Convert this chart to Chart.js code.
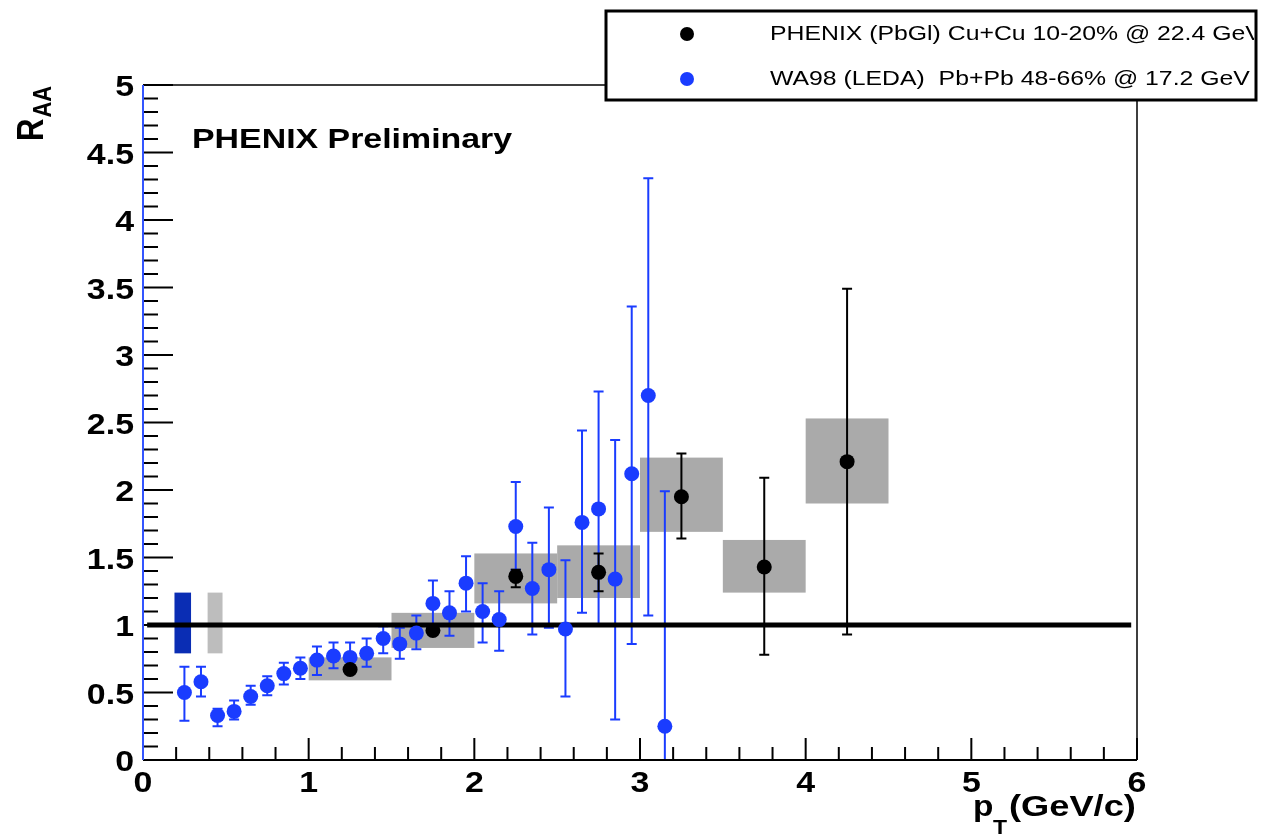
<!DOCTYPE html>
<html>
<head>
<meta charset="utf-8">
<script src="https://cdn.jsdelivr.net/npm/chart.js@4.4.1/dist/chart.umd.min.js"></script>
<style>
  html, body { margin: 0; padding: 0; background: #fff; }
  #wrap { width: 1268px; height: 837px; }
</style>
</head>
<body>
<div id="wrap"><canvas id="raaChart" width="1268" height="837"></canvas></div>
<script>
// WA98 (LEDA) Pb+Pb 48-66% @ 17.2 GeV
const wa98Pt  = [0.25, 0.35, 0.45, 0.55, 0.65, 0.75, 0.85, 0.95, 1.05, 1.15, 1.25, 1.35, 1.45, 1.55, 1.65,
                 1.75, 1.85, 1.95, 2.05, 2.15, 2.25, 2.35, 2.45, 2.55, 2.65, 2.75, 2.85, 2.95, 3.05, 3.15];
const wa98Raa = [0.50, 0.58, 0.33, 0.36, 0.47, 0.55, 0.64, 0.68, 0.74, 0.77, 0.76, 0.79, 0.90, 0.86, 0.94,
                 1.16, 1.09, 1.31, 1.10, 1.04, 1.73, 1.27, 1.41, 0.97, 1.76, 1.86, 1.34, 2.12, 2.70, 0.25];
const wa98Lo  = [0.29, 0.47, 0.25, 0.30, 0.41, 0.48, 0.56, 0.60, 0.63, 0.68, 0.68, 0.69, 0.79, 0.75, 0.82,
                 0.99, 0.92, 1.10, 0.87, 0.81, 1.41, 0.93, 0.98, 0.47, 1.09, 1.00, 0.30, 0.86, 1.07, 0.00];
const wa98Hi  = [0.69, 0.69, 0.38, 0.44, 0.55, 0.62, 0.72, 0.76, 0.84, 0.87, 0.87, 0.90, 0.99, 0.98, 1.07,
                 1.33, 1.25, 1.51, 1.31, 1.25, 2.06, 1.61, 1.87, 1.48, 2.44, 2.73, 2.37, 3.36, 4.31, 1.99];

// PHENIX (PbGl) Cu+Cu 10-20% @ 22.4 GeV
const phenixPt  = [1.25, 1.75, 2.25, 2.75, 3.25, 3.75, 4.25];
const phenixRaa = [0.67, 0.96, 1.36, 1.39, 1.95, 1.43, 2.21];
const phenixLo  = [0.65, 0.93, 1.28, 1.25, 1.64, 0.78, 0.93];
const phenixHi  = [0.69, 0.99, 1.41, 1.53, 2.27, 2.09, 3.49];
// systematic boxes (width 0.5 in pT)
const sysHalfWidth = 0.25;
const sysLo = [0.59, 0.83, 1.16, 1.20, 1.69, 1.24, 1.90];
const sysHi = [0.76, 1.09, 1.53, 1.59, 2.24, 1.63, 2.53];

// normalization uncertainty boxes at R_AA = 1 (WA98, PHENIX)
const normX0 = [0.19, 0.39];
const normX1 = [0.29, 0.48];
const normLo = [0.79, 0.79];
const normHi = [1.24, 1.24];

const unityX = [0.025, 5.965];

const xTickVals = [0, 1, 2, 3, 4, 5, 6];
const xTickLabels = ['0', '1', '2', '3', '4', '5', '6'];
const yTickVals = [0, 0.5, 1, 1.5, 2, 2.5, 3, 3.5, 4, 4.5, 5];
const yTickLabels = ['0', '0.5', '1', '1.5', '2', '2.5', '3', '3.5', '4', '4.5', '5'];

const BLUE = '#1a3cff';
const FONT = "'Liberation Sans', Arial, Helvetica, sans-serif";
const SX = 1.25; // text in the original is stretched horizontally

function stretchText(ctx, txt, x, y, sx, align) {
  ctx.save();
  ctx.translate(x, y);
  ctx.scale(sx, 1);
  ctx.textAlign = align || 'left';
  ctx.fillText(txt, 0, 0);
  ctx.restore();
}

function drawErrorBars(chart, xs, lo, hi, color) {
  const { ctx, scales: { x, y } } = chart;
  ctx.save();
  ctx.strokeStyle = color;
  ctx.lineWidth = 2;
  xs.forEach((v, i) => {
    const px = x.getPixelForValue(v);
    const y0 = y.getPixelForValue(lo[i]);
    const y1 = y.getPixelForValue(hi[i]);
    ctx.beginPath();
    ctx.moveTo(px, y0);
    ctx.lineTo(px, y1);
    if (lo[i] > 0) {
      ctx.moveTo(px - 5, y0);
      ctx.lineTo(px + 5, y0);
    }
    ctx.moveTo(px - 5, y1);
    ctx.lineTo(px + 5, y1);
    ctx.stroke();
  });
  ctx.restore();
}

const rootStyle = {
  id: 'rootStyle',
  beforeDatasetsDraw(chart) {
    const { ctx, scales: { x, y } } = chart;
    // normalization boxes
    const normColors = ['#0a2db4', '#bdbdbd'];
    normX0.forEach((x0, i) => {
      const l = x.getPixelForValue(x0), r = x.getPixelForValue(normX1[i]);
      const t = y.getPixelForValue(normHi[i]), b = y.getPixelForValue(normLo[i]);
      ctx.fillStyle = normColors[i];
      ctx.fillRect(l, t, r - l, b - t);
    });
    // systematic boxes
    ctx.fillStyle = '#aaaaaa';
    phenixPt.forEach((p, i) => {
      const l = x.getPixelForValue(p - sysHalfWidth), r = x.getPixelForValue(p + sysHalfWidth);
      const t = y.getPixelForValue(sysHi[i]), b = y.getPixelForValue(sysLo[i]);
      ctx.fillRect(l, t, r - l, b - t);
    });
    drawErrorBars(chart, wa98Pt, wa98Lo, wa98Hi, BLUE);
    drawErrorBars(chart, phenixPt, phenixLo, phenixHi, '#000');
  },
  afterDatasetsDraw(chart) {
    const { ctx, chartArea: a, scales: { x, y } } = chart;
    ctx.save();
    // frame
    ctx.strokeStyle = '#000';
    ctx.lineWidth = 1.5;
    ctx.beginPath();
    ctx.moveTo(a.left, a.top); ctx.lineTo(a.right, a.top); ctx.lineTo(a.right, a.bottom);
    ctx.stroke();
    ctx.lineWidth = 2;
    ctx.beginPath();
    ctx.moveTo(a.left, a.bottom); ctx.lineTo(a.right, a.bottom);
    ctx.stroke();
    // y ticks
    ctx.lineWidth = 2;
    ctx.beginPath();
    for (let i = 0; i <= 50; i++) {
      const py = y.getPixelForValue(i / 10);
      const len = i % 5 === 0 ? 30 : 15;
      ctx.moveTo(a.left, py); ctx.lineTo(a.left + len, py);
    }
    // x ticks
    for (let i = 0; i <= 30; i++) {
      const px = x.getPixelForValue(i / 5);
      const len = i % 5 === 0 ? 22 : 13;
      ctx.moveTo(px, a.bottom); ctx.lineTo(px, a.bottom - len);
    }
    ctx.stroke();
    // y axis line (blue in the original)
    ctx.strokeStyle = '#3355ff';
    ctx.lineWidth = 2;
    ctx.beginPath();
    ctx.moveTo(a.left, a.top); ctx.lineTo(a.left, a.bottom);
    ctx.stroke();
    ctx.restore();
  },
  afterDraw(chart) {
    const { ctx, chartArea: a, scales: { x, y } } = chart;
    ctx.save();
    ctx.fillStyle = '#000';
    ctx.textBaseline = 'alphabetic';
    // tick labels
    ctx.font = 'bold 30px ' + FONT;
    yTickVals.forEach((v, i) => {
      stretchText(ctx, yTickLabels[i], a.left - 9, y.getPixelForValue(v) + 11, 1.13, 'right');
    });
    xTickVals.forEach((v, i) => {
      stretchText(ctx, xTickLabels[i], x.getPixelForValue(v), 792, 1.13, 'center');
    });

    // y title R_AA
    ctx.save();
    ctx.translate(43, 141);
    ctx.rotate(-Math.PI / 2);
    ctx.scale(1, 1.2);
    ctx.font = 'bold 31px ' + FONT;
    ctx.fillText('R', 0, 0);
    const rw = ctx.measureText('R').width;
    ctx.font = 'bold 22px ' + FONT;
    ctx.fillText('AA', rw + 1, 7);
    ctx.restore();

    // x title p_T (GeV/c)
    ctx.font = 'bold 29px ' + FONT;
    stretchText(ctx, 'p', 973, 816, 1.15);
    ctx.font = 'bold 20px ' + FONT;
    stretchText(ctx, 'T', 993, 834, 1.15);
    ctx.font = 'bold 29px ' + FONT;
    stretchText(ctx, '(GeV/c)', 1009, 816, 1.25);

    // label
    ctx.font = 'bold 28px ' + FONT;
    stretchText(ctx, 'PHENIX Preliminary', 192, 148, 1.21);

    // legend
    const lg = { l: 606, t: 11, r: 1256, b: 100 };
    ctx.fillStyle = '#fff';
    ctx.fillRect(lg.l, lg.t, lg.r - lg.l, lg.b - lg.t);
    ctx.strokeStyle = '#000';
    ctx.lineWidth = 3;
    ctx.strokeRect(lg.l, lg.t, lg.r - lg.l, lg.b - lg.t);
    const ds = chart.data.datasets;
    const rows = [{ d: ds[0], cy: 34, base: 40 }, { d: ds[1], cy: 79, base: 85 }];
    ctx.save();
    ctx.beginPath();
    ctx.rect(lg.l + 2, lg.t + 2, lg.r - lg.l - 4, lg.b - lg.t - 4);
    ctx.clip();
    ctx.font = '20px ' + FONT;
    rows.forEach(row => {
      ctx.fillStyle = row.d.backgroundColor;
      ctx.beginPath();
      ctx.arc(687, row.cy, 7, 0, Math.PI * 2);
      ctx.fill();
      ctx.fillStyle = '#000';
      stretchText(ctx, row.d.label, 770, row.base, 1.24);
    });
    ctx.restore();
    ctx.restore();
  }
};

new Chart(document.getElementById('raaChart'), {
  type: 'scatter',
  data: {
    datasets: [
      {
        label: 'PHENIX (PbGl) Cu+Cu 10-20% @ 22.4 GeV',
        data: phenixPt.map((p, i) => ({ x: p, y: phenixRaa[i] })),
        backgroundColor: '#000000',
        borderWidth: 0,
        pointRadius: 7.5,
        order: 1
      },
      {
        label: 'WA98 (LEDA)  Pb+Pb 48-66% @ 17.2 GeV',
        data: wa98Pt.map((p, i) => ({ x: p, y: wa98Raa[i] })),
        backgroundColor: BLUE,
        borderWidth: 0,
        pointRadius: 7.5,
        order: 2
      },
      {
        type: 'line',
        label: 'unity',
        data: unityX.map(p => ({ x: p, y: 1 })),
        borderColor: '#000000',
        borderWidth: 5,
        pointRadius: 0,
        order: 3
      }
    ]
  },
  options: {
    responsive: false,
    animation: false,
    devicePixelRatio: 1,
    layout: { padding: { top: 85, right: 131, left: 0, bottom: 0 } },
    scales: {
      x: {
        type: 'linear',
        min: 0,
        max: 6,
        grid: { display: false, drawTicks: false },
        border: { display: false },
        ticks: { display: false, stepSize: 1 },
        afterFit: (scale) => { scale.height = 77; }
      },
      y: {
        type: 'linear',
        min: 0,
        max: 5,
        grid: { display: false, drawTicks: false },
        border: { display: false },
        ticks: { display: false, stepSize: 0.5 },
        afterFit: (scale) => { scale.width = 143; }
      }
    },
    plugins: {
      legend: { display: false },
      tooltip: { enabled: false }
    }
  },
  plugins: [rootStyle]
});
</script>
</body>
</html>
